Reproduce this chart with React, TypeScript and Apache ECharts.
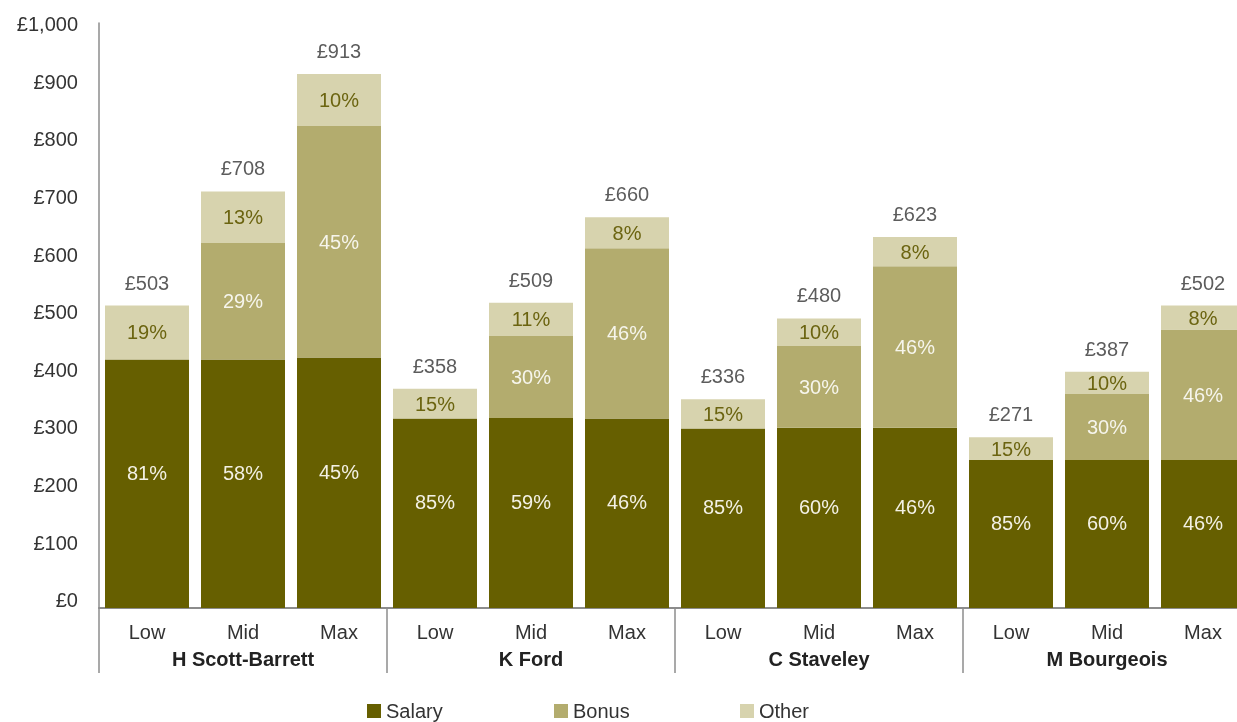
import React, { useEffect, useRef } from "react";
import * as echarts from "echarts";

const levels = ["Low", "Mid", "Max", "Low", "Mid", "Max", "Low", "Mid", "Max", "Low", "Mid", "Max"];
const people = ["H Scott-Barrett", "K Ford", "C Staveley", "M Bourgeois"];

// segment heights (£k) as drawn
const salary = [425, 425, 428, 324, 325, 324, 307, 308, 308, 253, 253, 253];
const bonus = [0, 199, 396, 0, 140, 291, 0, 140, 276, 0, 113, 223];
const other = [92, 88, 89, 51, 57, 53, 50, 47, 50, 39, 38, 41];

// printed labels
const totalLabels = ["£503", "£708", "£913", "£358", "£509", "£660", "£336", "£480", "£623", "£271", "£387", "£502"];
const salaryPct = ["81%", "58%", "45%", "85%", "59%", "46%", "85%", "60%", "46%", "85%", "60%", "46%"];
const bonusPct = ["", "29%", "45%", "", "30%", "46%", "", "30%", "46%", "", "30%", "46%"];
const otherPct = ["19%", "13%", "10%", "15%", "11%", "8%", "15%", "10%", "8%", "15%", "10%", "8%"];

const yTicks = [0, 100, 200, 300, 400, 500, 600, 700, 800, 900, 1000];

const FONT = "'Liberation Sans', Arial, Helvetica, sans-serif";
const C_SALARY = "#665f00";
const C_BONUS = "#b3ac6e";
const C_OTHER = "#d7d3ae";
const AXIS = "#8c8c8c";

export default function App() {
  const ref = useRef<HTMLDivElement>(null);
  useEffect(() => {
    const chart = echarts.init(ref.current!, null, { renderer: "svg" });
    const totals = salary.map((s, i) => s + bonus[i] + other[i]);
    // y tick labels sit on a slightly tighter spacing than the bars' scale
    const rich: Record<string, any> = {};
    yTicks.forEach((v, i) => {
      const d = Math.round((-1 + (10 - i) * 0.9) * 2);
      rich["t" + i] = {
        fontSize: 20,
        color: "#333",
        fontFamily: FONT,
        padding: d >= 0 ? [0, 0, d, 0] : [-d, 0, 0, 0],
      };
    });
    chart.setOption({
      animation: false,
      textStyle: { fontFamily: FONT },
      grid: { left: 99, right: 0, top: 23, bottom: 114, containLabel: false },
      legend: [
        { data: ["Salary"], left: 367, top: 701, padding: 0, itemWidth: 14, itemHeight: 14, icon: "rect", textStyle: { fontSize: 20, color: "#333", fontFamily: FONT } },
        { data: ["Bonus"], left: 554, top: 701, padding: 0, itemWidth: 14, itemHeight: 14, icon: "rect", textStyle: { fontSize: 20, color: "#333", fontFamily: FONT } },
        { data: ["Other"], left: 740, top: 701, padding: 0, itemWidth: 14, itemHeight: 14, icon: "rect", textStyle: { fontSize: 20, color: "#333", fontFamily: FONT } },
      ],
      xAxis: [
        {
          type: "category",
          data: levels,
          position: "bottom",
          axisLine: { show: true, lineStyle: { color: AXIS, width: 2 } },
          axisTick: { show: false },
          axisLabel: { interval: 0, margin: 14, fontSize: 20, color: "#333", fontFamily: FONT },
        },
        {
          type: "category",
          data: people,
          position: "bottom",
          axisLine: { show: false },
          axisTick: { show: true, interval: 0, length: 65, lineStyle: { color: AXIS, width: 1.5 } },
          axisLabel: { interval: 0, margin: 41, fontSize: 20, fontWeight: "bold", color: "#222", fontFamily: FONT },
        },
      ],
      yAxis: {
        type: "value",
        min: 0,
        max: 1000,
        interval: 100,
        axisLine: { show: true, lineStyle: { color: AXIS, width: 1.5 } },
        axisTick: { show: false },
        splitLine: { show: false },
        axisLabel: {
          margin: 21,
          fontSize: 20,
          color: "#333",
          fontFamily: FONT,
          rich,
          formatter: (v: number) => `{t${Math.round(v / 100)}|£${v.toLocaleString("en-GB")}}`,
        },
      },
      series: [
        {
          name: "Salary",
          type: "bar",
          stack: "pay",
          barWidth: 84,
          data: salary,
          itemStyle: { color: C_SALARY },
          label: { show: true, position: "inside", offset: [0, -11], fontSize: 20, color: "#f3f1e4", fontFamily: FONT, formatter: (p: any) => salaryPct[p.dataIndex] },
        },
        {
          name: "Bonus",
          type: "bar",
          stack: "pay",
          barWidth: 84,
          data: bonus,
          itemStyle: { color: C_BONUS },
          label: { show: true, position: "inside", fontSize: 20, color: "#f6f5ec", fontFamily: FONT, formatter: (p: any) => bonusPct[p.dataIndex] },
        },
        {
          name: "Other",
          type: "bar",
          stack: "pay",
          barWidth: 84,
          data: other,
          itemStyle: { color: C_OTHER },
          label: { show: true, position: "inside", fontSize: 20, color: "#6b6410", fontFamily: FONT, formatter: (p: any) => otherPct[p.dataIndex] },
        },
        {
          name: "Total",
          type: "scatter",
          data: totals,
          symbolSize: 0,
          silent: true,
          z: 5,
          label: { show: true, position: "top", distance: 13, fontSize: 20, color: "#333", fontFamily: FONT, formatter: (p: any) => totalLabels[p.dataIndex] },
        },
      ],
    });
    return () => chart.dispose();
  }, []);
  return (
    <div style={{ position: "fixed", left: 0, top: 0, width: 1237, height: 722, overflow: "hidden" }}>
      <div ref={ref} style={{ position: "absolute", left: 0, top: 0, width: 1251, height: 722 }} />
    </div>
  );
}
